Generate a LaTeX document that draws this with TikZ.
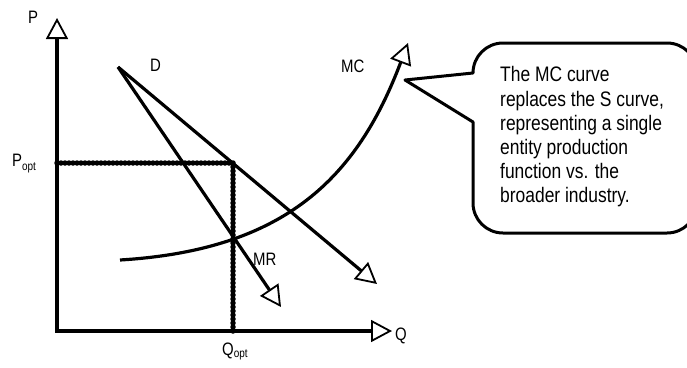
\documentclass[tikz,border=0pt]{standalone}
\usepackage{fontspec}
\setmainfont[FakeStretch=0.83]{Liberation Sans}
\usetikzlibrary{arrows.meta}
\begin{document}
\begin{tikzpicture}[x=1pt,y=-1pt,
  lbl/.style={font=\fontsize{18}{20}\selectfont, inner sep=0, anchor=base west},
  sub/.style={},
  curve/.style={line width=3.2pt, black},
  axis/.style={line width=4.5pt},
  opentip/.style={-{Triangle[open,length=21pt,width=22pt,line width=1.8pt]}},
  dotline/.style={line width=5.5pt, line cap=round, dash pattern=on 0pt off 4pt},
]
\useasboundingbox (0,0) rectangle (687,367);
\clip (0,0) rectangle (687,367);

\coordinate (O) at (57,331);
\coordinate (Ytip) at (57,18);
\coordinate (Xtip) at (392,331);
\coordinate (Dstart) at (118,67);
\coordinate (Dend) at (377,284);
\coordinate (MRend) at (281,307);
\coordinate (Opt) at (233,163);
\coordinate (Popt) at (57,163);
\coordinate (Qopt) at (233,331);
\coordinate (MCstart) at (120,260);
\coordinate (MCend) at (408,43);

% dotted guide lines
\draw[dotline] (Popt) -- (Opt) -- (Qopt);

% axes
\draw[axis, {Triangle[open,length=21pt,width=22pt,line width=1.8pt]}-{Triangle[open,length=21pt,width=22pt,line width=1.8pt]}] (Ytip) -- (O) -- (Xtip);

% curves
\draw[curve, opentip] (Dstart) -- (Dend);
\draw[curve, opentip] (Dstart) -- (MRend);
\draw[curve, opentip] (MCstart) .. controls (285,250) and (357,178) .. (MCend);

% labels
\node[lbl] (P) at (28,23) {P};
\node[lbl] (Q) at (395,340) {Q};
\node[lbl] (D) at (150,71) {D};
\node[lbl] (MC) at (341,72) {MC};
\node[lbl] (MR) at (253,265) {MR};
\node[lbl] (PoptL) at (12,166) {P\raisebox{-4pt}{\fontsize{12}{12}\selectfont opt}};
\node[lbl] (QoptL) at (222,355) {Q\raisebox{-2pt}{\fontsize{12}{12}\selectfont opt}};

% callout
\draw[line width=3pt, line join=round, fill=white]
  (405,80) -- (473,73) arc[start angle=180,end angle=270,radius=30]
  -- (667,43) arc[start angle=270,end angle=360,radius=30]
  -- (697,203) arc[start angle=0,end angle=90,radius=30]
  -- (503,233) arc[start angle=90,end angle=180,radius=30]
  -- (473,122) -- cycle;
\node[anchor=north west, align=left, inner sep=0, font=\fontsize{21}{24.2}\selectfont] (note) at (500,66.5)
  {The MC curve\\replaces the S curve,\\representing a single\\entity production\\function vs. the\\broader industry.};
\end{tikzpicture}
\end{document}
